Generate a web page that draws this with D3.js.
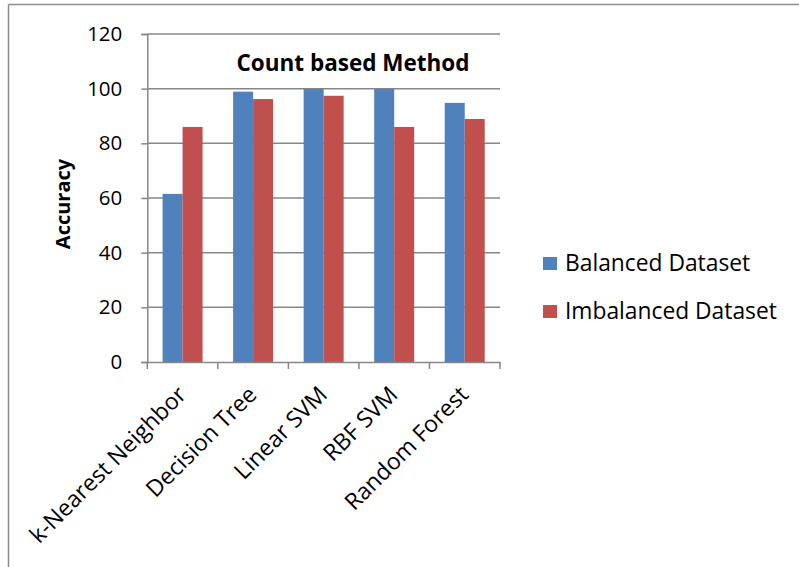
<!DOCTYPE html>
<html>
<head>
<meta charset="utf-8">
<script src="https://cdn.jsdelivr.net/npm/d3@7"></script>
<style>
  html, body { margin: 0; padding: 0; background: #fff; }
  svg { display: block; }
  text { font-family: "Open Sans", sans-serif; fill: #000; }
</style>
</head>
<body>
<svg id="chart" width="799" height="567"></svg>
<script>
// Classifier accuracy for the count based method
const categories = ["k-Nearest Neighbor", "Decision Tree", "Linear SVM", "RBF SVM", "Random Forest"];
const seriesNames = ["Balanced Dataset", "Imbalanced Dataset"];
const balanced = [61.5, 98.9, 99.9, 99.9, 94.8];
const imbalanced = [86.0, 96.2, 97.4, 86.0, 88.9];
const yTicks = [0, 20, 40, 60, 80, 100, 120];
const colors = ["#4F81BD", "#C0504D"];

const svg = d3.select("#chart");

// outer frame (left and top edges)
svg.append("line").attr("x1", 8.5).attr("x2", 8.5).attr("y1", 4.5).attr("y2", 567)
  .attr("stroke", "#8c8c8c").attr("stroke-width", 1.5);
svg.append("line").attr("x1", 8.5).attr("x2", 799).attr("y1", 4.5).attr("y2", 4.5)
  .attr("stroke", "#8c8c8c").attr("stroke-width", 1.5);

const plot = { left: 147.3, right: 500, top: 34, bottom: 362 };

const y = d3.scaleLinear().domain([0, 120]).range([plot.bottom, plot.top]);
const x = d3.scaleBand().domain(categories).range([plot.left, plot.right]).padding(0);
const barW = 20;
const xs = d3.scaleBand().domain(seriesNames).range([-barW, barW]).padding(0);

// horizontal gridlines
svg.append("g").selectAll("line").data(yTicks.filter(d => d > 0)).join("line")
  .attr("x1", plot.left).attr("x2", plot.right)
  .attr("y1", d => y(d)).attr("y2", d => y(d))
  .attr("stroke", "#878787").attr("stroke-width", 1.5);

// bars
const rows = categories.map((c, i) => ({ c, vals: [balanced[i], imbalanced[i]] }));
const groups = svg.append("g").selectAll("g").data(rows).join("g")
  .attr("transform", d => `translate(${x(d.c) + x.bandwidth() / 2},0)`);
groups.selectAll("rect").data(d => d.vals.map((v, k) => ({ v, k }))).join("rect")
  .attr("x", d => xs(seriesNames[d.k]))
  .attr("width", xs.bandwidth())
  .attr("y", d => y(d.v))
  .attr("height", d => y(0) - y(d.v))
  .attr("fill", d => colors[d.k]);

// y axis
const yAxis = svg.append("g").attr("transform", `translate(${plot.left},0)`)
  .call(d3.axisLeft(y).tickValues(yTicks).tickSize(6).tickPadding(19).tickFormat(d3.format("d")));
yAxis.select(".domain").attr("stroke", "#878787").attr("stroke-width", 1.5);
yAxis.selectAll(".tick line").attr("stroke", "#878787").attr("stroke-width", 1.5);
yAxis.selectAll(".tick text").attr("font-size", 20.5).attr("font-family", "Open Sans").attr("fill", "#000");

// x axis
const xAxis = svg.append("g").attr("transform", `translate(0,${plot.bottom})`)
  .call(d3.axisBottom(x).tickSize(0).tickFormat(""));
xAxis.select(".domain").attr("stroke", "#878787").attr("stroke-width", 1.5);
const xTickPos = categories.map(c => x(c)).concat([plot.right]);
xAxis.append("g").selectAll("line").data(xTickPos).join("line")
  .attr("x1", d => d).attr("x2", d => d).attr("y1", 0).attr("y2", 7)
  .attr("stroke", "#878787").attr("stroke-width", 1.5);

// category labels, rotated
svg.append("g").selectAll("text").data(categories).join("text")
  .attr("transform", d => `translate(${x(d) + x.bandwidth() / 2 + 5},${plot.bottom + 34}) rotate(-45)`)
  .attr("text-anchor", "end")
  .attr("font-size", 23)
  .text(d => d);

// y axis title
svg.append("text")
  .attr("transform", `translate(70,204) rotate(-90)`)
  .attr("text-anchor", "middle")
  .attr("font-size", 20)
  .attr("font-weight", "bold")
  .text("Accuracy");

// chart title
svg.append("text")
  .attr("x", 353).attr("y", 71)
  .attr("text-anchor", "middle")
  .attr("font-size", 22.5)
  .attr("font-weight", "bold")
  .text("Count based Method");

// legend
const legend = svg.append("g").selectAll("g").data(seriesNames).join("g")
  .attr("transform", (d, i) => `translate(543,${257 + i * 48})`);
legend.append("rect").attr("width", 14).attr("height", 13).attr("fill", (d, i) => colors[i]);
legend.append("text").attr("x", 22).attr("y", 14).attr("font-size", 22.8).text(d => d);
</script>
</body>
</html>
